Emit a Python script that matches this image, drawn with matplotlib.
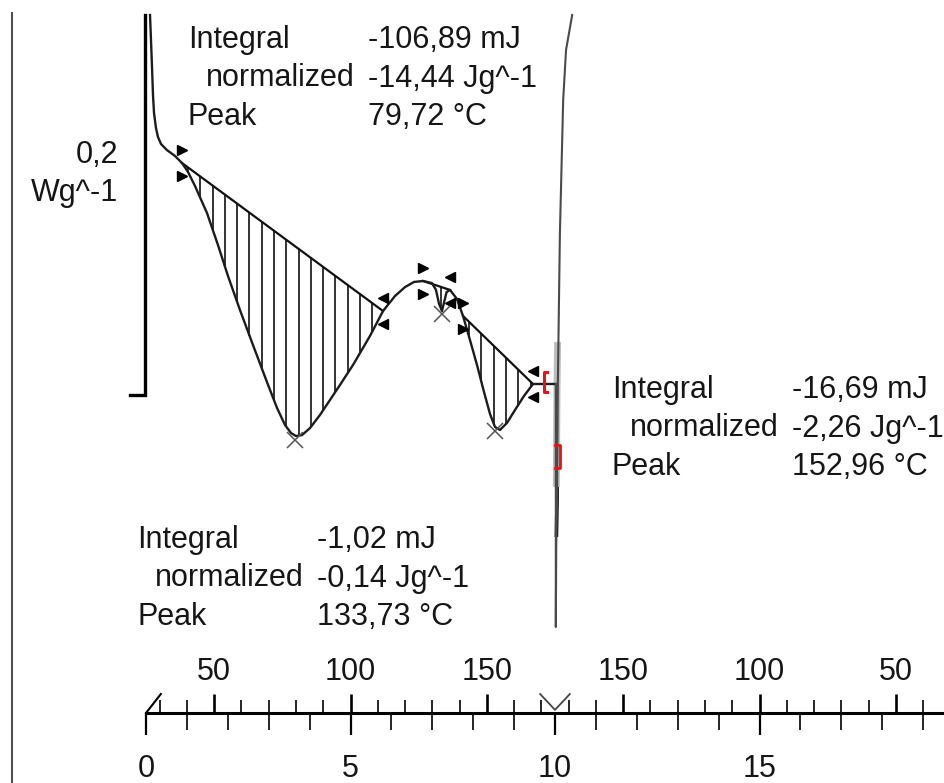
import numpy as np
import matplotlib
matplotlib.use("Agg")
import matplotlib.pyplot as plt
from matplotlib.lines import Line2D

plt.rcParams['font.family'] = ['Liberation Sans', 'DejaVu Sans']

W, H, DPI = 944, 783, 100
TXT = '#161616'
FS = 22

# ---- DSC trace (heating segment): time in min, heat flow in W/g ----
time_min = [0.098, 0.122, 0.147, 0.171, 0.196, 0.244, 0.293, 0.367, 0.513, 0.709,
            0.880, 1.027, 1.198, 1.491, 1.760, 2.005, 2.298, 2.616, 2.958, 3.203,
            3.399, 3.545, 3.667, 3.814, 4.010, 4.254, 4.499, 4.743, 5.061, 5.477,
            5.795, 6.088, 6.333, 6.553, 6.773, 6.993, 7.090, 7.164, 7.237, 7.290,
            7.350, 7.433, 7.604, 7.751, 7.922, 8.093, 8.264, 8.411, 8.533, 8.655,
            8.826, 9.022, 9.242, 9.462, 9.756, 10.02]
heat_flow = [0.2000, 0.1868, 0.1726, 0.1579, 0.1484, 0.1405, 0.1358, 0.1321, 0.1289, 0.1258,
             0.1221, 0.1174, 0.1100, 0.0958, 0.0789, 0.0626, 0.0447, 0.0263, 0.0068, -0.0068,
             -0.0158, -0.0200, -0.0216, -0.0211, -0.0174, -0.0105, -0.0026, 0.0053, 0.0158, 0.0311,
             0.0442, 0.0521, 0.0568, 0.0595, 0.0600, 0.0589, 0.0553, 0.0480, 0.0442, 0.0490,
             0.0542, 0.0553, 0.0505, 0.0416, 0.0289, 0.0158, 0.0016, -0.0100, -0.0168, -0.0184,
             -0.0147, -0.0079, -0.0005, 0.0058, 0.0058, 0.0058]

# ---- switch from heating to cooling: signal drops, then swings off scale ----
switch_time = [10.02, 10.03, 10.05, 10.07, 10.12, 10.20, 10.27, 10.42]
switch_hf = [-0.1221, -0.0800, -0.0553, 0.0063, 0.0853, 0.1553, 0.1816, 0.2000]

# ---- temperature programme ----
T_START, RATE, T_MAX = 25, 15.0, 175
T_HOLD = (T_MAX - T_START) / RATE   # end of heating, min

# ---- peak evaluations ----
eval_limits = [(0.880, 5.795), (7.751, 9.462), (6.773, 7.433)]
eval_peak_T = [79.72, 152.96, 133.73]
eval_integral_mJ = [-106.89, -16.69, -1.02]
eval_normalized = [-14.44, -2.26, -0.14]

# ---- scales ----
SCALE_BAR_WG = 0.2
minute_labels = [0, 5, 10, 15]
temp_labels = [50, 100, 150]

PX_PER_MIN = 40.9
PX_PER_WG = 1900.0
X0_PX, Y0_PX = 146, 395
X_LEFT, X_RIGHT = -X0_PX / PX_PER_MIN, (W - X0_PX) / PX_PER_MIN
HF_TOP, HF_BOTTOM = Y0_PX / PX_PER_WG, (Y0_PX - H) / PX_PER_WG


def dec(v, nd=2):
    return f"{v:.{nd}f}".replace('.', ',')


def t_heat(T):
    return (T - T_START) / RATE


def t_cool(T):
    return T_HOLD + (T_MAX - T) / RATE


fig = plt.figure(figsize=(W / DPI, H / DPI), dpi=DPI)
fig.patch.set_facecolor('white')
ax = fig.add_axes([0, 0, 1, 1])
ax.set_xlim(X_LEFT, X_RIGHT)
ax.set_ylim(HF_BOTTOM, HF_TOP)
ax.axis('off')

t_arr = np.array(time_min)
hf_arr = np.array(heat_flow)

# hatching between the integration baseline and the curve
HATCH_STEP = 0.3
for (ta, tb) in eval_limits:
    ya, yb = np.interp([ta, tb], t_arr, hf_arr)
    ts = np.arange(ta + HATCH_STEP * 0.5, tb, HATCH_STEP)
    if len(ts) == 0:
        ts = np.array([(ta + tb) / 2])
    base = ya + (yb - ya) * (ts - ta) / (tb - ta)
    curve = np.interp(ts, t_arr, hf_arr)
    ax.vlines(ts, curve, base, color='#111111', lw=1.2, zorder=2)
    ax.plot([ta, tb], [ya, yb], color='#111111', lw=1.6, zorder=3)
    dy = 0.0068
    ax.plot([ta, ta], [ya + dy, ya - dy], ls='none', marker='>', ms=6.5,
            color='black', zorder=4)
    ax.plot([tb, tb], [yb + dy, yb - dy], ls='none', marker='<', ms=6.5,
            color='black', zorder=4)

# peak markers
for Tp in eval_peak_T:
    tp = t_heat(Tp)
    hp = np.interp(tp, t_arr, hf_arr)
    ax.plot(tp, hp - 0.0025, marker='x', ms=12, mew=1.1, color='#555555', zorder=4)

# switch line: faint band and dark stretch drawn under the trace
sw_t = np.array(switch_time)
sw_h = np.array(switch_hf)
band = np.linspace(-0.0484, 0.0279, 10)
ax.plot(np.interp(band, sw_h, sw_t) - 0.02, band, color='#bdbdbd', lw=5, zorder=1,
        solid_capstyle='butt')
dark = np.linspace(-0.0747, -0.0484, 5)
ax.plot(np.interp(dark, sw_h, sw_t), dark, color='black', lw=2.6, zorder=2,
        solid_capstyle='butt')

# the trace itself
ax.plot(t_arr, hf_arr, color='#1c1c1c', lw=1.7, zorder=3)
ax.plot(np.r_[t_arr[-1], sw_t], np.r_[hf_arr[-1], sw_h], color='#4a4a4a', lw=1.5, zorder=3)

# red segment brackets
ax.plot([9.80, 9.72, 9.72, 9.80], [0.0121, 0.0121, 0.0016, 0.0016], color='#ee1111', lw=2.2, zorder=5)
ax.plot([10.00, 10.12, 10.12, 10.00], [-0.0263, -0.0263, -0.0384, -0.0384], color='#ee1111', lw=2.0, zorder=5)

# heat flow scale bar
ax.plot([-0.39, -0.03, -0.03], [0, 0, SCALE_BAR_WG], color='black', lw=2.4,
        solid_joinstyle='miter', zorder=3)
fig.text(118 / W, 1 - 155 / H, dec(SCALE_BAR_WG, 1), ha='right', va='center', fontsize=FS, color=TXT)
fig.text(118 / W, 1 - 193 / H, 'Wg^-1', ha='right', va='center', fontsize=FS, color=TXT)

# window frame line on the left
fig.add_artist(Line2D([12 / W, 12 / W], [0, 1 - 13 / H], color='#505050', lw=1.5))

# evaluation text blocks
blocks = [(188, 40, 368), (612, 390, 792), (137, 540, 317)]
LINE = 38.5
for k, (bx, by, vx) in enumerate(blocks):
    rows = [('Integral', f"{dec(eval_integral_mJ[k])} mJ", 0),
            ('normalized', f"{dec(eval_normalized[k])} Jg^-1", 18),
            ('Peak', f"{dec(eval_peak_T[k])} °C", 0)]
    for i, (lab, val, ind) in enumerate(rows):
        yy = 1 - (by + i * LINE) / H
        fig.text((bx + ind) / W, yy, lab, ha='left', va='center', fontsize=FS, color=TXT)
        fig.text(vx / W, yy, val, ha='left', va='center', fontsize=FS, color=TXT)

# ---- time / temperature axis ----
AXIS_PX = 713
axt = fig.add_axes([0, 1 - AXIS_PX / H, 1, 1e-6])
axt.set_xlim(X_LEFT, X_RIGHT)
axt.patch.set_visible(False)
for s in ['left', 'right', 'top']:
    axt.spines[s].set_visible(False)
axt.spines['bottom'].set_linewidth(2.2)
axt.spines['bottom'].set_bounds(0, X_RIGHT)
axt.set_yticks([])
minutes_all = np.arange(0, int(X_RIGHT) + 1)
axt.set_xticks(minute_labels, [str(m) for m in minute_labels])
axt.set_xticks([m for m in minutes_all if m not in minute_labels], minor=True)
axt.tick_params(axis='x', which='major', direction='out', length=15.8, width=1.6,
                pad=14, labelsize=FS, labelcolor=TXT)
axt.tick_params(axis='x', which='minor', direction='out', length=12.2, width=1.2)

heat_T = list(range(30, T_MAX, 10))
cool_T = list(range(T_MAX - 5, 20, -10))
maj_t, maj_lab, min_t = [], [], []
for T in heat_T:
    if T in temp_labels:
        maj_t.append(t_heat(T))
        maj_lab.append(str(T))
    else:
        min_t.append(t_heat(T))
for T in cool_T:
    tc = t_cool(T)
    if tc > X_RIGHT:
        continue
    if T in temp_labels:
        maj_t.append(tc)
        maj_lab.append(str(T))
    else:
        min_t.append(tc)
sec = axt.secondary_xaxis('top')
sec.set_ticks(maj_t, maj_lab)
sec.set_ticks(min_t, minor=True)
sec.spines['top'].set_visible(False)
sec.tick_params(axis='x', which='major', direction='out', length=13.7, width=1.9,
                pad=5, labelsize=FS, labelcolor=TXT)
sec.tick_params(axis='x', which='minor', direction='out', length=9.4, width=1.2)

# segment start mark and maximum-temperature mark on the axis
trans = ax.get_xaxis_transform()
y_axis = 1 - AXIS_PX / H
y_up = 1 - 694 / H
ax.plot([0, t_heat(30) + 0.03], [y_axis, y_up], transform=trans, color='black', lw=1.5)
ax.plot([t_heat(T_MAX - 5) - 0.03, T_HOLD, t_cool(T_MAX - 5) + 0.03],
        [y_up, y_axis + 0.004, y_up], transform=trans, color='#444444', lw=1.3)

fig.savefig('out.png', dpi=DPI, facecolor='white')
